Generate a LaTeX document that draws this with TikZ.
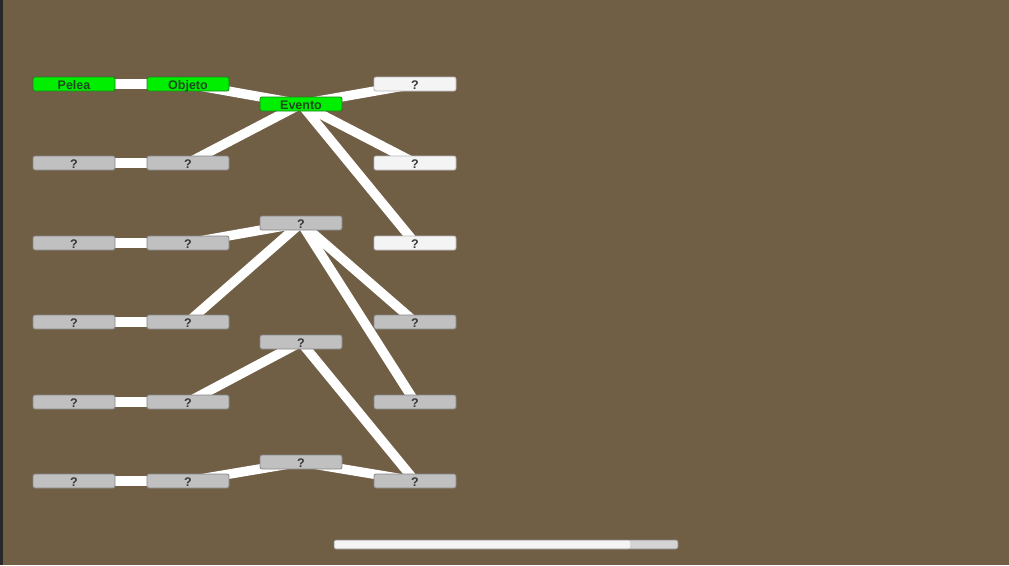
\documentclass[tikz,border=0pt]{standalone}
\usepackage{fontspec}
\setmainfont{Liberation Sans}
\usetikzlibrary{backgrounds}
\definecolor{canvas}{RGB}{112,94,69}
\definecolor{sidebar}{RGB}{40,40,40}
\definecolor{nodegreen}{RGB}{0,238,0}
\definecolor{greenedge}{RGB}{30,130,30}
\definecolor{nodegray}{RGB}{192,192,192}
\definecolor{grayedge}{RGB}{135,135,135}
\definecolor{nodewhite}{RGB}{244,244,244}
\definecolor{whiteedge}{RGB}{185,185,185}
\definecolor{labelgray}{RGB}{55,55,55}
\definecolor{labelgreen}{RGB}{30,75,30}
\definecolor{trackgray}{RGB}{212,212,212}

\begin{document}
\begin{tikzpicture}[
    x=1pt, y=-1pt,
    slot/.style={
      rectangle, rounded corners=2pt, line width=0.8pt,
      minimum width=82pt, minimum height=14pt, inner sep=0pt,
      text height=10.4pt, text depth=0pt,
      font=\fontsize{12.5}{13}\selectfont\bfseries, text=labelgray
    },
    done/.style={slot, fill=nodegreen, draw=greenedge, text=labelgreen},
    locked/.style={slot, fill=nodegray, draw=grayedge},
    open/.style={slot, fill=nodewhite, draw=whiteedge},
    link/.style={white, line width=9.5pt},
  ]

  %% Canvas
  \useasboundingbox (0,0) rectangle (1009,565);
  \begin{scope}[on background layer]
    \fill[canvas] (0,0) rectangle (1009,565);
    \fill[sidebar] (0,0) rectangle (3,565);
  \end{scope}

  %% Column 1
  \node[done]   (a1) at (74,84)  {Pelea};
  \node[locked] (a2) at (74,163) {?};
  \node[locked] (a3) at (74,243) {?};
  \node[locked] (a4) at (74,322) {?};
  \node[locked] (a5) at (74,402) {?};
  \node[locked] (a6) at (74,481) {?};

  %% Column 2
  \node[done]   (b1) at (188,84)  {Objeto};
  \node[locked] (b2) at (188,163) {?};
  \node[locked] (b3) at (188,243) {?};
  \node[locked] (b4) at (188,322) {?};
  \node[locked] (b5) at (188,402) {?};
  \node[locked] (b6) at (188,481) {?};

  %% Column 3
  \node[done]   (c1) at (301,104) {Evento};
  \node[locked] (c2) at (301,223) {?};
  \node[locked] (c3) at (301,342) {?};
  \node[locked] (c4) at (301,462) {?};

  %% Column 4
  \node[open]   (d1) at (415,84)  {?};
  \node[open]   (d2) at (415,163) {?};
  \node[open]   (d3) at (415,243) {?};
  \node[locked] (d4) at (415,322) {?};
  \node[locked] (d5) at (415,402) {?};
  \node[locked] (d6) at (415,481) {?};

  %% Links (behind the slots)
  \begin{scope}[on background layer]
    \draw[link] (a1.center) -- (b1.center);
    \draw[link] (a2.center) -- (b2.center);
    \draw[link] (a3.center) -- (b3.center);
    \draw[link] (a4.center) -- (b4.center);
    \draw[link] (a5.center) -- (b5.center);
    \draw[link] (a6.center) -- (b6.center);

    \draw[link] (b1.center) -- (c1.center);
    \draw[link] (b2.center) -- (c1.center);
    \draw[link] (c1.center) -- (d1.center);
    \draw[link] (c1.center) -- (d2.center);
    \draw[link] (c1.center) -- (d3.center);

    \draw[link] (b3.center) -- (c2.center);
    \draw[link] (b4.center) -- (c2.center);
    \draw[link] (c2.center) -- (d4.center);
    \draw[link] (c2.center) -- (d5.center);

    \draw[link] (b5.center) -- (c3.center);
    \draw[link] (c3.center) -- (d6.center);

    \draw[link] (b6.center) -- (c4.center);
    \draw[link] (c4.center) -- (d6.center);
  \end{scope}

  %% Scroll bar
  \fill[trackgray, rounded corners=2pt] (334,540) rectangle (678,549);
  \fill[nodewhite, rounded corners=2pt] (334,540) rectangle (630,549);
  \draw[grayedge, line width=0.6pt, rounded corners=2pt] (334,540) rectangle (678,549);

\end{tikzpicture}
\end{document}
